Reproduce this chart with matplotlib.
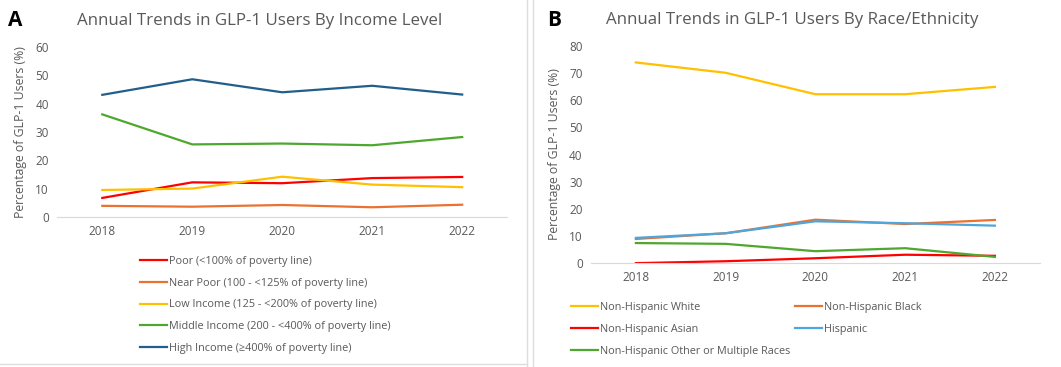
import matplotlib.pyplot as plt
from matplotlib.lines import Line2D

plt.rcParams['font.family'] = ['Open Sans', 'DejaVu Sans']

years = [2018, 2019, 2020, 2021, 2022]

# --- Panel A: income level
income_labels = ["Poor (<100% of poverty line)",
                 "Near Poor (100 - <125% of poverty line)",
                 "Low Income (125 - <200% of poverty line)",
                 "Middle Income (200 - <400% of poverty line)",
                 "High Income (≥400% of poverty line)"]
poor = [6.7, 12.2, 11.9, 13.7, 14.1]
near_poor = [3.9, 3.6, 4.2, 3.4, 4.3]
low_income = [9.5, 10.0, 14.2, 11.4, 10.5]
middle_income = [36.2, 25.6, 25.9, 25.3, 28.2]
high_income = [43.1, 48.6, 44.0, 46.3, 43.2]

# --- Panel B: race / ethnicity
race_labels = ["Non-Hispanic White", "Non-Hispanic Black", "Non-Hispanic Asian",
               "Hispanic", "Non-Hispanic Other or Multiple Races"]
nh_white = [73.9, 70.1, 62.2, 62.2, 64.9]
nh_black = [8.9, 11.0, 16.0, 14.4, 15.9]
nh_asian = [0.0, 0.7, 1.8, 3.1, 2.7]
hispanic = [9.3, 11.0, 15.4, 14.7, 13.8]
nh_other = [7.4, 7.1, 4.4, 5.5, 2.3]

RED = '#FF0000'
ORANGE = '#E97132'
YELLOW = '#FFC000'
GREEN = '#4EA72E'
NAVY = '#215F8A'
LBLUE = '#4EA6DC'
GRAY = '#595959'

fig = plt.figure(figsize=(10.61, 3.67), dpi=100)


def style_axes(ax, ymax, step):
    ax.set_xlim(2017.5, 2022.5)
    ax.set_ylim(0, ymax)
    ax.set_xticks(years)
    ax.set_yticks(range(0, ymax + 1, step))
    for s in ['top', 'right', 'left']:
        ax.spines[s].set_visible(False)
    ax.spines['bottom'].set_color('#D9D9D9')
    ax.tick_params(length=0, labelsize=8.5, colors=GRAY, pad=6)
    ax.set_ylabel("Percentage of GLP-1 Users (%)", fontsize=8.8, color=GRAY, labelpad=6)


axA = fig.add_axes([0.054, 0.409, 0.424, 0.463])
for vals, lab, c in zip([poor, near_poor, low_income, middle_income, high_income],
                        income_labels, [RED, ORANGE, YELLOW, GREEN, NAVY]):
    axA.plot(years, vals, color=c, lw=1.6, label=lab)
style_axes(axA, 60, 10)
axA.set_title("Annual Trends in GLP-1 Users By Income Level", fontsize=12.2,
              color=GRAY, pad=16, x=0.449)
axA.legend(loc='upper left', bbox_to_anchor=(0.127, 0.318), bbox_transform=fig.transFigure,
           frameon=False, fontsize=7.8, labelcolor=GRAY, handlelength=2.5,
           handletextpad=0.15, labelspacing=1.0, borderpad=0)

axB = fig.add_axes([0.557, 0.283, 0.423, 0.592])
lines_b = {}
for vals, lab, c in zip([nh_white, nh_black, nh_asian, hispanic, nh_other],
                        race_labels, [YELLOW, ORANGE, RED, LBLUE, GREEN]):
    lines_b[lab] = axB.plot(years, vals, color=c, lw=1.6, label=lab)[0]
style_axes(axB, 80, 10)
axB.set_title("Annual Trends in GLP-1 Users By Race/Ethnicity", fontsize=12.2,
              color=GRAY, pad=16, x=0.449)
# legend filled column by column, so reorder to read row by row
order = [race_labels[i] for i in [0, 2, 4, 1, 3]]
axB.legend([lines_b[k] for k in order], order,
           loc='upper left', bbox_to_anchor=(0.533, 0.192), bbox_transform=fig.transFigure,
           ncol=2, frameon=False, fontsize=7.8, labelcolor=GRAY, handlelength=2.5,
           handletextpad=0.15, labelspacing=1.0, columnspacing=0.5, borderpad=0)

fig.text(0.008, 0.945, "A", fontsize=15, fontweight='bold', va='center')
fig.text(0.516, 0.945, "B", fontsize=15, fontweight='bold', va='center')

# panel borders
fig.add_artist(Line2D([0.497, 0.497], [0.0, 1.0], color='#DDDDDD', lw=1))
fig.add_artist(Line2D([0.502, 0.502], [0.0, 1.0], color='#DDDDDD', lw=1))
fig.add_artist(Line2D([0.0, 0.497], [0.008, 0.008], color='#DDDDDD', lw=1))

fig.savefig("out.png", dpi=100)
